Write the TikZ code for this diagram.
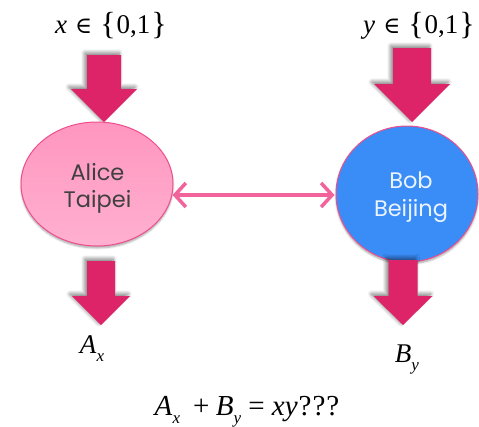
\documentclass[tikz,border=0pt]{standalone}
\usepackage{fontspec}
\setmainfont{Liberation Serif}
\newfontfamily\labfont{Poppins}
\newfontfamily\symfont{DejaVu Serif}
\usetikzlibrary{arrows.meta,shadows.blur,shapes.geometric}
\definecolor{arrowred}{HTML}{DE2468}
\definecolor{alicefill}{HTML}{FF96BF}
\definecolor{alicelight}{HTML}{FFB0D0}
\definecolor{aliceedge}{HTML}{EE4E8C}
\definecolor{bobfill}{HTML}{3A8CF6}
\definecolor{linkpink}{HTML}{F2639C}
\tikzset{
  bigarrow/.style={fill=arrowred, draw=none, blur shadow={shadow blur steps=8, shadow blur radius=4pt, shadow xshift=-2pt, shadow yshift=2pt, shadow opacity=55}},
  person/.style={ellipse, draw=aliceedge, line width=1pt, inner sep=0pt, blur shadow={shadow blur steps=6, shadow xshift=0pt, shadow yshift=-2pt, shadow opacity=35}},
  mathlab/.style={font=\fontsize{27}{30}\selectfont, anchor=base, inner sep=0pt},
  namelab/.style={font=\labfont\fontsize{22.5}{27}\selectfont, align=center, inner sep=0pt, anchor=north}
}
\newcommand{\subit}[1]{\raisebox{-8pt}{\fontsize{17}{18}\selectfont\itshape #1}}
\newcommand{\elem}{\hspace{0.3em}{\symfont\fontsize{23}{26}\selectfont ∈}\hspace{0.3em}}
\newcommand{\lbr}{{\fontsize{32}{32}\selectfont\raisebox{-1pt}{\{}}\kern1pt}
\newcommand{\rbr}{\kern1pt{\fontsize{32}{32}\selectfont\raisebox{-1pt}{\}}}}
\begin{document}
\begin{tikzpicture}[x=1pt,y=-1pt]
\useasboundingbox (0,0) rectangle (479,426);
\tikzset{downarrow/.pic={
  \path[bigarrow] (-\sw,0) -- (\sw,0) -- (\sw,\sh) -- (\hw,\sh) -- (0,\tl) -- (-\hw,\sh) -- (-\sw,\sh) -- cycle;
}}
% top arrows
\def\sw{17}\def\hw{33}\def\sh{34}\def\tl{67}
\pic at (104,55) {downarrow};
\def\sw{19}\def\hw{38}\def\sh{36}\def\tl{74}
\pic at (412,48) {downarrow};
% ellipses
\node[person, top color=alicefill, bottom color=alicelight, minimum width=152pt, minimum height=124pt] (alice) at (97,184) {};
\node[namelab, text=black!75] (alicet) at (97.5,163) {Alice\\Taipei};
\node[person, fill=bobfill, minimum width=142pt, minimum height=136pt] (bob) at (407,194) {};
\node[namelab, text=white!90!bobfill, font=\labfont\fontsize{22.5}{28}\selectfont] (bobt) at (411,172) {Bob\\Beijing};
% bottom arrows
\def\sw{14}\def\hw{29}\def\sh{35}\def\tl{64}
\pic at (101,261) {downarrow};
\def\sw{14.5}\def\hw{29.5}\def\sh{36}\def\tl{65}
\pic at (403,260) {downarrow};
% link
\coordinate (la) at (alice.east |- 0,195);
\coordinate (lb) at (bob.west |- 0,195);
\draw[linkpink, line width=3.5pt, {Straight Barb[length=11pt,width=24pt,line width=3.5pt]}-{Straight Barb[length=11pt,width=24pt,line width=3.5pt]}, shorten <=-1pt, shorten >=1pt] (la) -- (lb);
% labels
\node[mathlab] (xl) at (111,33) {\textit{x}\elem\lbr 0,1\rbr};
\node[mathlab] (yl) at (419,33) {\textit{y}\elem\lbr 0,1\rbr};
\node[mathlab] (ax) at (92,353) {\textit{A}\subit{x}};
\node[mathlab] (by) at (407,362) {\textit{B}\subit{y}};
\node[mathlab, font=\fontsize{29}{32}\selectfont] (eq) at (247,415) {\textit{A}\subit{x}\hspace{0.45em}+\hspace{0.22em}\textit{B}\subit{y}\hspace{0.25em}=\hspace{0.25em}\textit{xy}\kern1pt?\kern1pt?\kern1pt?};
\end{tikzpicture}
\end{document}
